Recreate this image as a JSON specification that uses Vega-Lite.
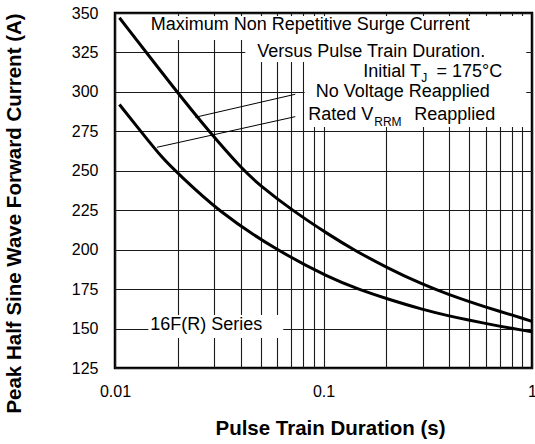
{
  "$schema": "https://vega.github.io/schema/vega-lite/v6.json",
  "width": 417,
  "height": 355,
  "autosize": "none",
  "padding": {"left": 115, "top": 13, "right": 3, "bottom": 76},
  "background": "white",
  "config": {
    "font": "Liberation Sans",
    "view": {"stroke": "black", "strokeWidth": 2.5},
    "axis": {"labelColor": "black", "titleColor": "black", "labelFont": "Liberation Sans", "titleFont": "Liberation Sans"}
  },
  "datasets": {
    "curves": [
      {"series": "No Voltage Reapplied", "t": 0.0105, "c": 347},
      {"series": "No Voltage Reapplied", "t": 0.0198, "c": 300},
      {"series": "No Voltage Reapplied", "t": 0.028, "c": 275.5},
      {"series": "No Voltage Reapplied", "t": 0.0407, "c": 251},
      {"series": "No Voltage Reapplied", "t": 0.0498, "c": 240.5},
      {"series": "No Voltage Reapplied", "t": 0.0706, "c": 225},
      {"series": "No Voltage Reapplied", "t": 0.1076, "c": 209},
      {"series": "No Voltage Reapplied", "t": 0.139, "c": 200},
      {"series": "No Voltage Reapplied", "t": 0.2, "c": 188.8},
      {"series": "No Voltage Reapplied", "t": 0.3, "c": 177.8},
      {"series": "No Voltage Reapplied", "t": 0.4, "c": 171.5},
      {"series": "No Voltage Reapplied", "t": 0.5, "c": 167},
      {"series": "No Voltage Reapplied", "t": 0.6, "c": 163.6},
      {"series": "No Voltage Reapplied", "t": 0.7, "c": 160.9},
      {"series": "No Voltage Reapplied", "t": 0.8, "c": 158.6},
      {"series": "No Voltage Reapplied", "t": 0.9, "c": 156.5},
      {"series": "No Voltage Reapplied", "t": 1, "c": 154.5},
      {"series": "Rated VRRM Reapplied", "t": 0.0105, "c": 292},
      {"series": "Rated VRRM Reapplied", "t": 0.0133, "c": 275},
      {"series": "Rated VRRM Reapplied", "t": 0.0171, "c": 257},
      {"series": "Rated VRRM Reapplied", "t": 0.0202, "c": 248},
      {"series": "Rated VRRM Reapplied", "t": 0.0308, "c": 225},
      {"series": "Rated VRRM Reapplied", "t": 0.0587, "c": 200},
      {"series": "Rated VRRM Reapplied", "t": 0.1076, "c": 182},
      {"series": "Rated VRRM Reapplied", "t": 0.15, "c": 174.5},
      {"series": "Rated VRRM Reapplied", "t": 0.2, "c": 169},
      {"series": "Rated VRRM Reapplied", "t": 0.3, "c": 162},
      {"series": "Rated VRRM Reapplied", "t": 0.4, "c": 158},
      {"series": "Rated VRRM Reapplied", "t": 0.5, "c": 155.3},
      {"series": "Rated VRRM Reapplied", "t": 0.6, "c": 153.2},
      {"series": "Rated VRRM Reapplied", "t": 0.7, "c": 151.5},
      {"series": "Rated VRRM Reapplied", "t": 0.8, "c": 150.1},
      {"series": "Rated VRRM Reapplied", "t": 0.9, "c": 149},
      {"series": "Rated VRRM Reapplied", "t": 1, "c": 148}
    ],
    "boxes": [
      {"t": 0.01322, "t2": 0.9391, "c": 348.1, "c2": 332.9},
      {"t": 0.04217, "t2": 0.9391, "c": 332.9, "c2": 319.0},
      {"t": 0.0812, "t2": 0.9391, "c": 319.0, "c2": 277.8},
      {"t": 0.01445, "t2": 0.0641, "c": 158.6, "c2": 144.0}
    ],
    "leaders": [
      {"id": "a", "t": 0.02426, "c": 283.9},
      {"id": "a", "t": 0.0732, "c": 298.5},
      {"id": "b", "t": 0.0159, "c": 264.9},
      {"id": "b", "t": 0.0732, "c": 284.3}
    ],
    "textCenter": [
      {"text": "Maximum Non Repetitive Surge Current", "t": 0.08644, "c": 342.4},
      {"text": "No Voltage Reapplied", "t": 0.2401, "c": 300}
    ],
    "textLeft": [
      {"text": "Initial T", "t": 0.1552, "c": 312.6},
      {"text": "Rated V", "t": 0.08455, "c": 285.4},
      {"text": "16F(R) Series", "t": 0.01476, "c": 152.3}
    ],
    "textRight": [
      {"text": "Versus Pulse Train Duration.", "t": 0.597, "c": 325.3},
      {"text": "= 175°C", "t": 0.7205, "c": 312.6},
      {"text": "Reapplied", "t": 0.6668, "c": 285.4}
    ],
    "textSub": [
      {"text": "J", "t": 0.2945, "c": 308.6},
      {"text": "RRM", "t": 0.1752, "c": 280.6}
    ]
  },
  "encoding": {
    "x": {
      "field": "t", "type": "quantitative",
      "scale": {"type": "log", "domain": [0.01, 1], "nice": false},
      "axis": {
        "title": "Pulse Train Duration (s)",
        "values": [0.01, 0.02, 0.03, 0.04, 0.05, 0.06, 0.07, 0.08, 0.09, 0.1, 0.2, 0.3, 0.4, 0.5, 0.6, 0.7, 0.8, 0.9, 1],
        "labelExpr": "datum.value == 0.01 ? '0.01' : datum.value == 0.1 ? '0.1' : datum.value == 1 ? '1' : ''",
        "labelOverlap": false,
        "labelBound": false,
        "labelFlush": false,
        "labelFontSize": 16,
        "labelPadding": 15,
        "ticks": false,
        "domain": false,
        "grid": true,
        "gridColor": "#1a1a1a",
        "gridWidth": 1.1,
        "gridOpacity": 1,
        "titleFontSize": 20.5,
        "titleFontWeight": "bold",
        "titleX": 215,
        "titleY": 60,
        "titleAlign": "center",
        "titleBaseline": "middle"
      }
    },
    "y": {
      "field": "c", "type": "quantitative",
      "scale": {"domain": [125, 350], "nice": false, "zero": false},
      "axis": {
        "title": "Peak Half Sine Wave Forward Current (A)",
        "values": [125, 150, 175, 200, 225, 250, 275, 300, 325, 350],
        "labelFontSize": 16,
        "labelPadding": 17,
        "labelOverlap": false,
        "labelBound": false,
        "labelFlush": false,
        "ticks": false,
        "domain": false,
        "grid": true,
        "gridColor": "#1a1a1a",
        "gridWidth": 1.1,
        "gridOpacity": 1,
        "titleFontSize": 20.5,
        "titleFontWeight": "bold",
        "titleAngle": -90,
        "titleX": -100.5,
        "titleY": 200,
        "titleAlign": "center",
        "titleBaseline": "middle"
      }
    }
  },
  "layer": [
    {
      "data": {"name": "boxes"},
      "mark": {"type": "rect", "fill": "white", "stroke": null},
      "encoding": {
        "x2": {"field": "t2"},
        "y2": {"field": "c2"}
      }
    },
    {
      "data": {"name": "leaders"},
      "mark": {"type": "line", "color": "black", "strokeWidth": 1},
      "encoding": {
        "detail": {"field": "id"}
      }
    },
    {
      "data": {"name": "curves"},
      "mark": {"type": "line", "color": "black", "strokeWidth": 3, "interpolate": "basis"},
      "encoding": {
        "detail": {"field": "series"}
      }
    },
    {
      "data": {"name": "textCenter"},
      "mark": {"type": "text", "align": "center", "baseline": "middle", "fontSize": 18, "color": "black"},
      "encoding": {
        "text": {"field": "text"}
      }
    },
    {
      "data": {"name": "textLeft"},
      "mark": {"type": "text", "align": "left", "baseline": "middle", "fontSize": 18, "color": "black"},
      "encoding": {
        "text": {"field": "text"}
      }
    },
    {
      "data": {"name": "textRight"},
      "mark": {"type": "text", "align": "right", "baseline": "middle", "fontSize": 18, "color": "black"},
      "encoding": {
        "text": {"field": "text"}
      }
    },
    {
      "data": {"name": "textSub"},
      "mark": {"type": "text", "align": "left", "baseline": "middle", "fontSize": 12, "color": "black"},
      "encoding": {
        "text": {"field": "text"}
      }
    }
  ]
}
